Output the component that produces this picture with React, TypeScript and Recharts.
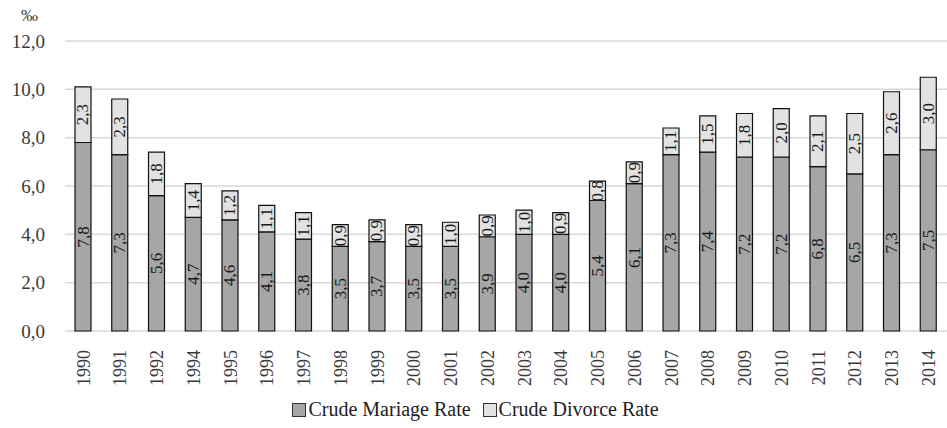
import { Bar, BarChart, CartesianGrid, LabelList, Legend, XAxis, YAxis } from "recharts";

const years = ["1990", "1991", "1992", "1994", "1995", "1996", "1997", "1998", "1999", "2000", "2001", "2002", "2003", "2004", "2005", "2006", "2007", "2008", "2009", "2010", "2011", "2012", "2013", "2014"];
const marriageRate = [7.8, 7.3, 5.6, 4.7, 4.6, 4.1, 3.8, 3.5, 3.7, 3.5, 3.5, 3.9, 4.0, 4.0, 5.4, 6.1, 7.3, 7.4, 7.2, 7.2, 6.8, 6.5, 7.3, 7.5];
const divorceRate = [2.3, 2.3, 1.8, 1.4, 1.2, 1.1, 1.1, 0.9, 0.9, 0.9, 1.0, 0.9, 1.0, 0.9, 0.8, 0.9, 1.1, 1.5, 1.8, 2.0, 2.1, 2.5, 2.6, 3.0];
const yTicks = [0, 2, 4, 6, 8, 10, 12];

const data = years.map((year, i) => ({ year, marriage: marriageRate[i], divorce: divorceRate[i] }));

const FONT = "'Liberation Serif', 'Times New Roman', serif";
const TEXT = "#3a3a3a";

const fmt = (v: number) => v.toFixed(1).replace(".", ",");

const YearTick = ({ x, y, payload }: any) => (
    <g transform={`translate(${x},${y + 11})`}>
        <text transform="rotate(-90)" textAnchor="end" dy="0.35em" fontSize={18} fontFamily={FONT} fill={TEXT}>
            {payload.value}
        </text>
    </g>
)

const SegmentLabel = (props: any) => {
    const { x, y, width, height, value } = props;
    const cx = Number(x) + Number(width) / 2;
    const cy = Number(y) + Number(height) / 2;
    return (
        <text x={cx} y={cy} transform={`rotate(-90 ${cx} ${cy})`} textAnchor="middle" dominantBaseline="central" fontSize={17} fontFamily={FONT} fill="#1a1a1a">
            {fmt(Number(value))}
        </text>
    )
}

const LegendBox = () => (
    <div style={{ display: "flex", justifyContent: "center", alignItems: "center", fontFamily: FONT, fontSize: 20, color: "#222", gap: 12, paddingTop: 12, paddingLeft: 4 }}>
        <span style={{ display: "flex", alignItems: "center" }}>
            <span style={{ width: 12, height: 12, background: "#a6a6a6", border: "1px solid #333", marginRight: 2 }} />
            Crude Mariage Rate
        </span>
        <span style={{ display: "flex", alignItems: "center" }}>
            <span style={{ width: 12, height: 12, background: "#e2e2e2", border: "1px solid #333", marginRight: 2 }} />
            Crude Divorce Rate
        </span>
    </div>
)

export default function App() {
    return (
        <div style={{ position: "fixed", left: 0, top: 0, width: 947, height: 428, background: "#fff" }}>
            <div style={{ position: "absolute", left: 21, top: 6, fontFamily: FONT, fontSize: 17, color: TEXT }}>‰</div>
            <BarChart width={947} height={428} data={data} margin={{ top: 41, right: 0, left: 0, bottom: 0 }}>
                <CartesianGrid vertical={false} stroke="#d9d9d9" strokeWidth={1.5} />
                <XAxis dataKey="year" interval={0} tickLine={false} axisLine={false} height={55} tick={<YearTick />} />
                <YAxis
                    domain={[0, 12]}
                    ticks={yTicks}
                    width={65}
                    tickLine={false}
                    axisLine={false}
                    tickFormatter={fmt}
                    tick={{ fontSize: 19, fontFamily: FONT, fill: TEXT }}
                    tickMargin={14}
                />
                <Legend verticalAlign="bottom" height={42} content={<LegendBox />} />
                <Bar dataKey="marriage" stackId="a" fill="#a6a6a6" stroke="#111" strokeWidth={1.2} barSize={16} isAnimationActive={false}>
                    <LabelList dataKey="marriage" content={<SegmentLabel />} />
                </Bar>
                <Bar dataKey="divorce" stackId="a" fill="#e2e2e2" stroke="#111" strokeWidth={1.2} barSize={16} isAnimationActive={false}>
                    <LabelList dataKey="divorce" content={<SegmentLabel />} />
                </Bar>
            </BarChart>
        </div>
    )
}
